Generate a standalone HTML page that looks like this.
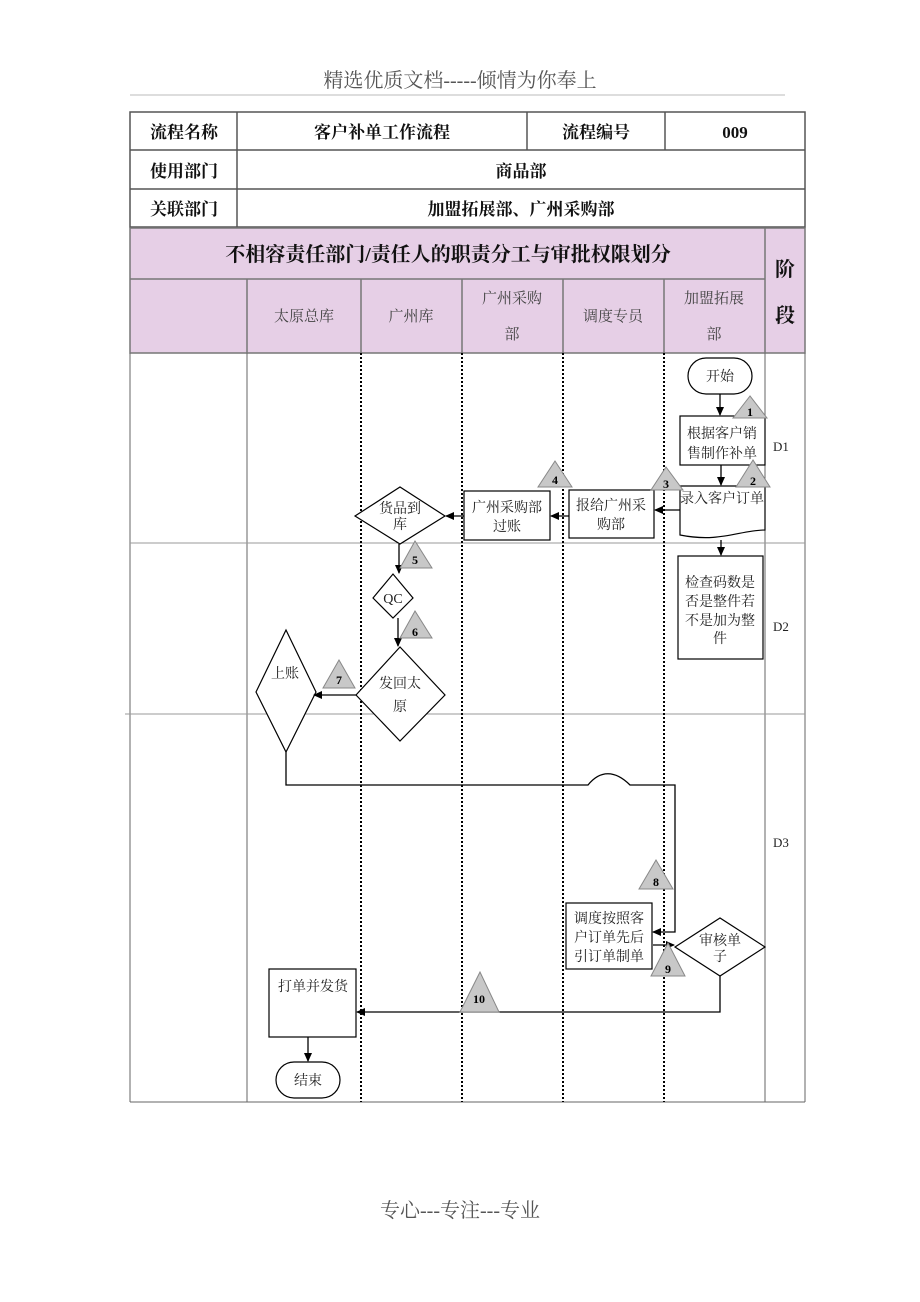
<!DOCTYPE html>
<html><head><meta charset="utf-8"><style>
body{margin:0;background:#fff}
svg{display:block}
text{font-family:"Liberation Serif","Noto Serif CJK SC",serif}
</style></head><body>
<svg width="920" height="1302" viewBox="0 0 920 1302" xmlns="http://www.w3.org/2000/svg">
<defs>
<marker id="ar" markerWidth="10" markerHeight="10" refX="8" refY="4" orient="auto" markerUnits="userSpaceOnUse"><path d="M0,0 L9,4 L0,8 z" fill="#000"/></marker>
</defs>
<text x="460" y="87" font-size="20" fill="#555" text-anchor="middle">精选优质文档-----倾情为你奉上</text>
<line x1="130" y1="95" x2="785" y2="95" stroke="#bbb" stroke-width="1"/>

<g stroke="#555" stroke-width="1.5" fill="none">
<rect x="130" y="112" width="675" height="115"/>
<line x1="130" y1="150" x2="805" y2="150"/>
<line x1="130" y1="189" x2="805" y2="189"/>
<line x1="237" y1="112" x2="237" y2="227"/>
<line x1="527" y1="112" x2="527" y2="150"/>
<line x1="665" y1="112" x2="665" y2="150"/>
</g>
<g font-size="17" font-weight="bold" text-anchor="middle" fill="#111">
<text x="184" y="138">流程名称</text>
<text x="382" y="138">客户补单工作流程</text>
<text x="596" y="138">流程编号</text>
<text x="735" y="138">009</text>
<text x="184" y="177">使用部门</text>
<text x="521" y="177">商品部</text>
<text x="184" y="215">关联部门</text>
<text x="521" y="215">加盟拓展部、广州采购部</text>
</g>

<rect x="130" y="228" width="675" height="125" fill="#e6cfe6" stroke="#777" stroke-width="1.5"/>
<g stroke="#777" stroke-width="1.5">
<line x1="130" y1="279" x2="765" y2="279"/>
<line x1="765" y1="228" x2="765" y2="353"/>
<line x1="247" y1="279" x2="247" y2="353"/>
<line x1="361" y1="279" x2="361" y2="353"/>
<line x1="462" y1="279" x2="462" y2="353"/>
<line x1="563" y1="279" x2="563" y2="353"/>
<line x1="664" y1="279" x2="664" y2="353"/>
</g>
<text x="448" y="261" font-size="20" font-weight="bold" text-anchor="middle" fill="#111">不相容责任部门/责任人的职责分工与审批权限划分</text>
<text x="785" y="276" font-size="20" font-weight="bold" text-anchor="middle" fill="#111">阶</text>
<text x="785" y="322" font-size="20" font-weight="bold" text-anchor="middle" fill="#111">段</text>
<g font-size="15" text-anchor="middle" fill="#444">
<text x="304" y="321">太原总库</text>
<text x="411" y="321">广州库</text>
<text x="512" y="303">广州采购</text>
<text x="512" y="339">部</text>
<text x="613" y="321">调度专员</text>
<text x="714" y="303">加盟拓展</text>
<text x="714" y="339">部</text>
</g>

<g stroke="#666" stroke-width="1" fill="none">
<line x1="130" y1="353" x2="130" y2="1102"/>
<line x1="247" y1="353" x2="247" y2="1102"/>
<line x1="765" y1="353" x2="765" y2="1102"/>
<line x1="805" y1="353" x2="805" y2="1102"/>
<line x1="130" y1="1102" x2="805" y2="1102"/>
<line x1="130" y1="543" x2="805" y2="543" stroke="#999"/>
<line x1="125" y1="714" x2="805" y2="714" stroke="#999"/>
</g>
<g stroke="#000" stroke-width="2" stroke-dasharray="2,2">
<line x1="361" y1="353" x2="361" y2="1102"/>
<line x1="462" y1="353" x2="462" y2="1102"/>
<line x1="563" y1="353" x2="563" y2="1102"/>
<line x1="664" y1="353" x2="664" y2="1102"/>
</g>
<g font-size="13" fill="#222" text-anchor="middle">
<text x="781" y="451">D1</text><text x="781" y="631">D2</text><text x="781" y="847">D3</text>
</g>

<g stroke="#000" stroke-width="1.2" fill="#fff">
<rect x="688" y="358" width="64" height="36" rx="18"/>
<rect x="680" y="416" width="85" height="49"/>
<path d="M680,486 H765 V530 C740,530 720,543 680,535 Z"/>
<rect x="569" y="490" width="85" height="48"/>
<rect x="464" y="491" width="86" height="49"/>
<polygon points="355,516 400,487 445,516 400,544"/>
<polygon points="373,598 393,574 413,598 393,618"/>
<polygon points="356,695 400,647 445,695 400,741"/>
<polygon points="256,692 286,630 316,692 286,752"/>
<rect x="678" y="556" width="85" height="103"/>
<rect x="566" y="903" width="86" height="66"/>
<polygon points="675,947 720,918 765,947 720,976"/>
<rect x="269" y="969" width="87" height="68"/>
<rect x="276" y="1062" width="64" height="36" rx="18"/>
</g>

<g stroke="#000" stroke-width="1.3" fill="none">
<line x1="720" y1="394" x2="720" y2="415" marker-end="url(#ar)"/>
<line x1="721" y1="465" x2="721" y2="485" marker-end="url(#ar)"/>
<line x1="680" y1="510" x2="655" y2="510" marker-end="url(#ar)"/>
<line x1="569" y1="516" x2="551" y2="516" marker-end="url(#ar)"/>
<line x1="464" y1="516" x2="446" y2="516" marker-end="url(#ar)"/>
<line x1="721" y1="540" x2="721" y2="555" marker-end="url(#ar)"/>
<line x1="399" y1="544" x2="399" y2="573" marker-end="url(#ar)"/>
<line x1="398" y1="618" x2="398" y2="646" marker-end="url(#ar)"/>
<line x1="356" y1="695" x2="314" y2="695" marker-end="url(#ar)"/>
<path d="M286,752 V785 H588 C600,770 615,770 630,785 H675 V932 H653" marker-end="url(#ar)"/>
<line x1="653" y1="945" x2="674" y2="945" marker-end="url(#ar)"/>
<path d="M720,976 V1012 H357" marker-end="url(#ar)"/>
<line x1="308" y1="1037" x2="308" y2="1061" marker-end="url(#ar)"/>
</g>

<g fill="#c8c8c8" stroke="#888" stroke-width="1">
<polygon points="750,396 733,418 767,418"/>
<polygon points="753,460 736,487 770,487"/>
<polygon points="666,467 651,490 683,490"/>
<polygon points="555,461 538,487 572,487"/>
<polygon points="415,541 400,568 432,568"/>
<polygon points="415,611 400,638 432,638"/>
<polygon points="339,660 323,688 355,688"/>
<polygon points="656,860 639,889 673,889"/>
<polygon points="668,943 651,976 685,976"/>
<polygon points="480,972 460,1012 499,1012"/>
</g>
<g font-size="12" font-weight="bold" text-anchor="middle" fill="#000">
<text x="750" y="416">1</text><text x="753" y="485">2</text><text x="666" y="488">3</text>
<text x="555" y="484">4</text><text x="415" y="564">5</text><text x="415" y="636">6</text>
<text x="339" y="684">7</text><text x="656" y="886">8</text><text x="668" y="973">9</text>
<text x="479" y="1003">10</text>
</g>

<g font-size="14" text-anchor="middle" fill="#222">
<text x="720" y="381">开始</text>
<text x="722" y="438">根据客户销</text><text x="722" y="458">售制作补单</text>
<text x="722" y="503">录入客户订单</text>
<text x="611" y="510">报给广州采</text><text x="611" y="529">购部</text>
<text x="507" y="512">广州采购部</text><text x="507" y="531">过账</text>
<text x="400" y="513">货品到</text><text x="400" y="529">库</text>
<text x="393" y="603">QC</text>
<text x="400" y="688">发回太</text><text x="400" y="711">原</text>
<text x="285" y="678">上账</text>
<text x="720" y="587">检查码数是</text><text x="720" y="606">否是整件若</text><text x="720" y="625">不是加为整</text><text x="720" y="643">件</text>
<text x="609" y="923">调度按照客</text><text x="609" y="942">户订单先后</text><text x="609" y="961">引订单制单</text>
<text x="720" y="945">审核单</text><text x="720" y="961">子</text>
<text x="313" y="991">打单并发货</text>
<text x="308" y="1085">结束</text>
</g>

<text x="460" y="1217" font-size="20" fill="#555" text-anchor="middle">专心---专注---专业</text>
</svg>
</body></html>
